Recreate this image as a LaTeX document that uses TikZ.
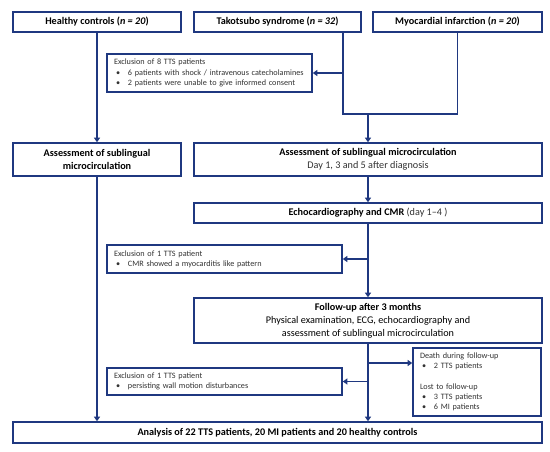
\documentclass[tikz,border=0pt]{standalone}
\usepackage{fontspec}
\setmainfont{Carlito}
\usetikzlibrary{arrows.meta}
\definecolor{navy}{RGB}{31,56,128}
\definecolor{txtgray}{RGB}{50,50,50}
\newcommand{\bitem}{\hspace*{2pt}\makebox[12pt][l]{•}}
\begin{document}
\begin{tikzpicture}[x=1pt,y=-1pt,
  box/.style={draw=navy,line width=1.6pt,inner sep=0pt,align=center,font=\fontsize{10.2}{12.8}\selectfont\bfseries},
  smallbox/.style={draw=navy,line width=1.6pt,inner xsep=7pt,inner ysep=0pt,align=left,font=\fontsize{8.2}{10.3}\selectfont,text=txtgray},
  conn/.style={navy,line width=1.6pt},
  arr/.style={conn,-{Triangle[width=6pt,length=4.5pt]}}]
\fill[white] (0,0) rectangle (550,451);
\useasboundingbox (0,0) rectangle (550,451);

\node[box,minimum width=168pt,minimum height=20pt] (hc) at (97,22) {Healthy controls (\textit{n = 20})};
\node[box,minimum width=167pt,minimum height=20pt] (tts) at (277.5,22) {Takotsubo syndrome (\textit{n = 32})};
\node[box,minimum width=169pt,minimum height=20pt] (mi) at (457.5,22) {Myocardial infarction (\textit{n = 20})};

\node[smallbox,text width=191pt,minimum height=38pt] (ex1) at (209.5,73) {Exclusion of 8 TTS patients\\ \bitem 6 patients with shock / intravenous catecholamines\\ \bitem 2 patients were unable to give informed consent};

\node[box,minimum width=168pt,minimum height=33pt] (asL) at (97,159.5) {Assessment of sublingual\\microcirculation};
\node[box,minimum width=348pt,minimum height=33pt] (asR) at (368,159.5) {Assessment of sublingual microcirculation\\{\mdseries\color{txtgray}Day 1, 3 and 5 after diagnosis}};

\node[box,minimum width=348pt,minimum height=20pt] (echo) at (368,213) {Echocardiography and CMR {\mdseries\color{txtgray}(day 1–4 )}};

\node[smallbox,text width=221pt,minimum height=28pt] (ex2) at (224.5,259) {Exclusion of 1 TTS patient\\ \bitem CMR showed a myocarditis like pattern};

\node[box,minimum width=348pt,minimum height=45pt] (fu) at (368,320.5) {Follow-up after 3 months\\{\mdseries Physical examination, ECG, echocardiography and}\\{\mdseries assessment of sublingual microcirculation}};

\node[smallbox,text width=114pt,minimum height=68pt] (death) at (477,382) {Death during follow-up\\ \bitem 2 TTS patients\\[10pt]Lost to follow-up\\ \bitem 3 TTS patients\\ \bitem 6 MI patients};

\node[smallbox,text width=221pt,minimum height=27pt] (ex3) at (224.5,381.5) {Exclusion of 1 TTS patient\\ \bitem persisting wall motion disturbances};

\node[box,minimum width=529pt,minimum height=21pt] (an) at (277.5,432.5) {Analysis of 22 TTS patients, 20 MI patients and 20 healthy controls};

\coordinate (jl) at (343,114);
\coordinate (jr) at (457.5,114);
\coordinate (j) at (368,114);
\coordinate (dd) at (368,363);

\draw[arr] (hc.south) -- (asL.north);
\draw[arr] (asL.south) -- (an.north -| asL.south);
\draw[conn] (jl |- tts.south) -- (jl) -- (jr) -- (mi.south);
\draw[arr] (jl |- ex1.east) -- (ex1.east);
\draw[arr] (j) -- (asR.north);
\draw[arr] (asR.south) -- (echo.north);
\draw[arr] (echo.south) -- (fu.north);
\draw[arr] (echo.south |- ex2.east) -- (ex2.east);
\draw[arr] (fu.south) -- (an.north -| fu.south);
\draw[arr] (dd) -- (dd -| death.west);
\draw[arr] (fu.south |- ex3.east) -- (ex3.east);
\end{tikzpicture}
\end{document}
